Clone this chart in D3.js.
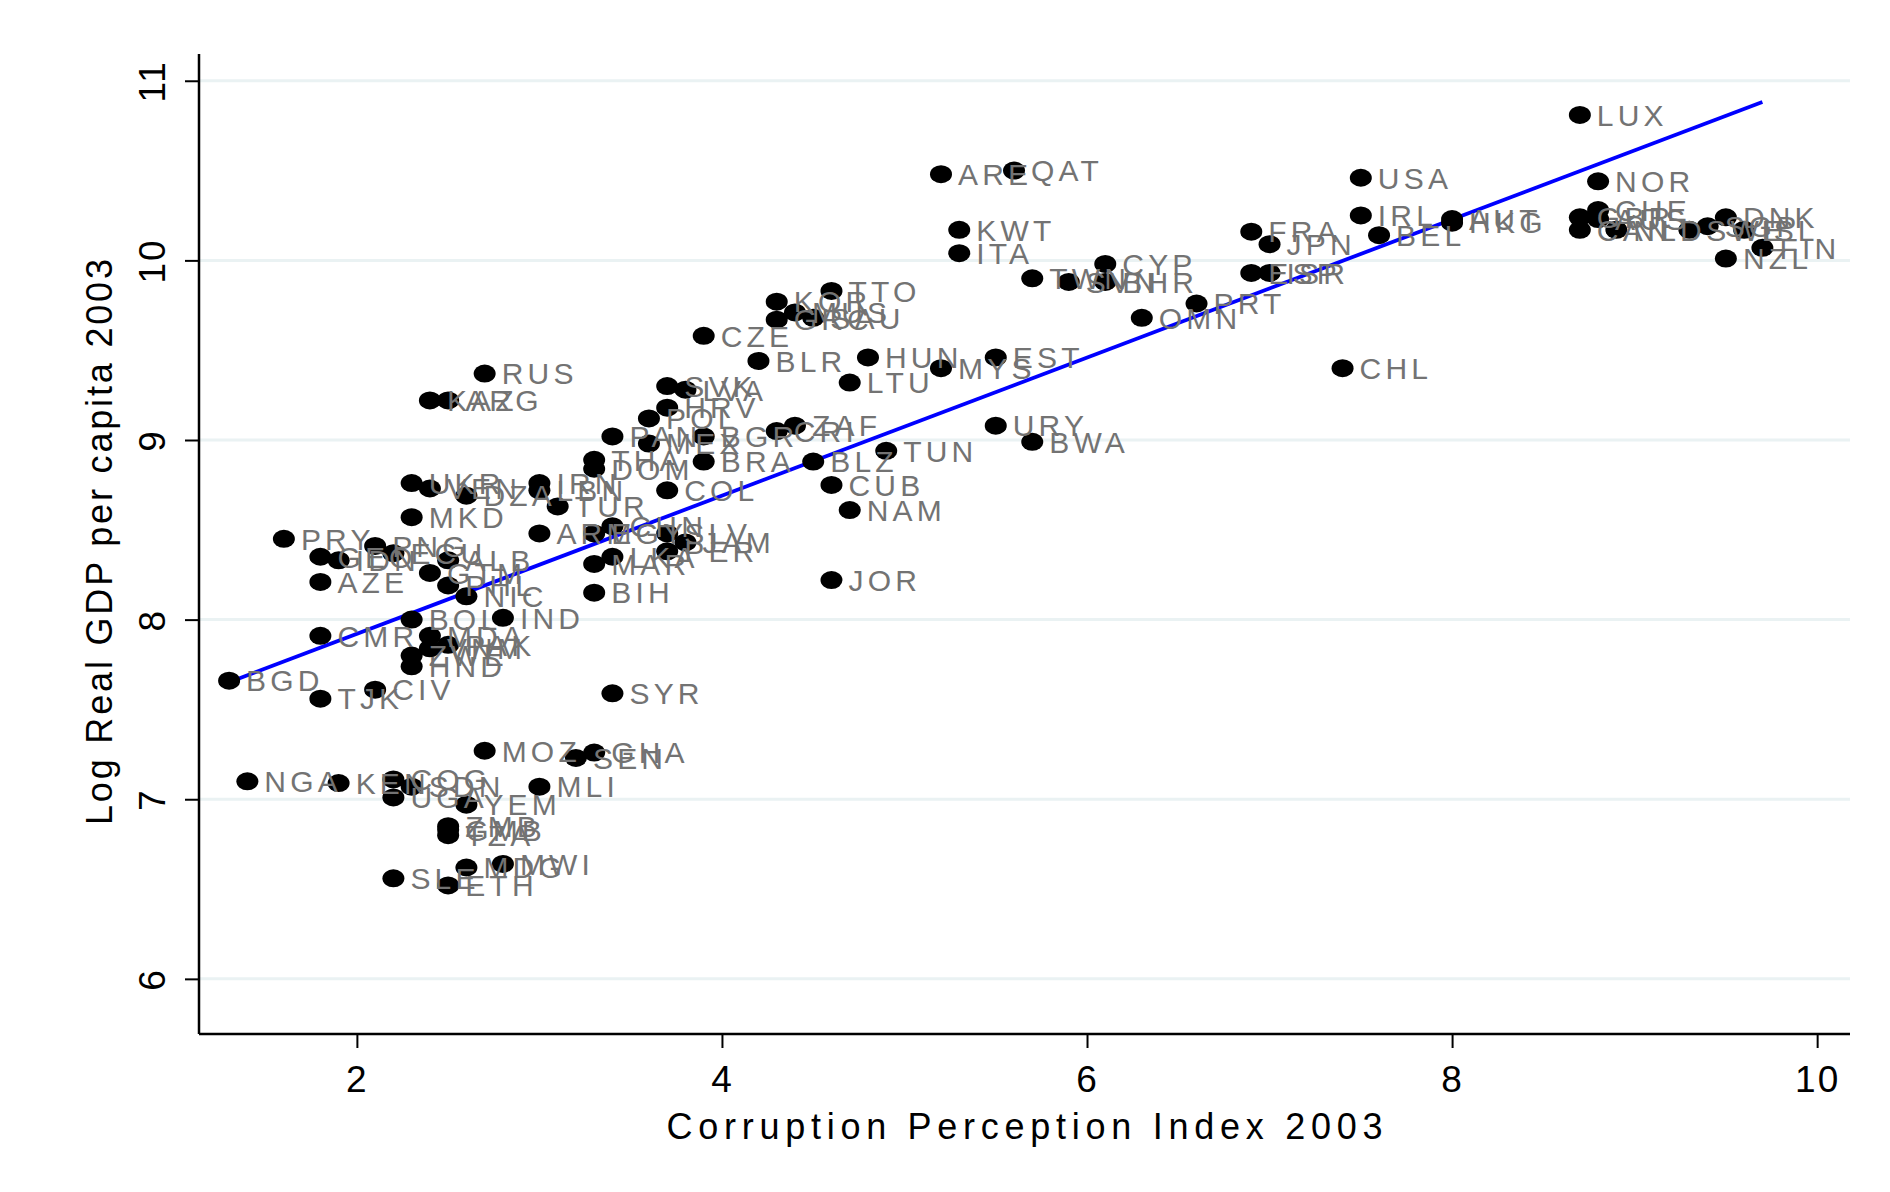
<!DOCTYPE html>
<html>
<head>
<meta charset="utf-8">
<script src="https://cdn.jsdelivr.net/npm/d3@7"></script>
<style>
  html, body { margin: 0; padding: 0; background: #fff; }
  svg text { font-family: "Liberation Sans", Arial, sans-serif; }
</style>
</head>
<body>
<div id="chart"></div>
<script>
// country codes, CPI 2003 and log real GDP per capita 2003
var codes = ["LUX","ARE","QAT","USA","NOR","KWT","ITA","IRL","BEL","AUT","HKG","FRA","JPN","ESP","ISR",
  "CYP","BHR","SVN","TWN","OMN","PRT","CHL","MYS","EST","HUN","LTU","URY","BWA","TUN","CZE","BLR",
  "TTO","KOR","MUS","SAU","GRC","CRI","ZAF","BLZ","CUB","NAM","JOR","SYR","SVK","LVA","HRV","POL",
  "MEX","BGR","BRA","COL","PAN","THA","DOM","IRN","LBN","TUR","ARM","EGY","CHN","SLV","JAM","PER",
  "LKA","MAR","BIH","UKR","VEN","DZA","MKD","RUS","KAZ","ARG","PRY","GEO","IDN","PNG","ECU","ALB",
  "GTM","PHL","NIC","AZE","BOL","IND","CMR","MDA","PAK","VNM","ZWE","HND","BGD","TJK","CIV","NGA",
  "KEN","COG","SDN","UGA","YEM","MLI","MOZ","SEN","GHA","ZMB","GMB","TZA","MDG","MWI","SLE","ETH",
  "GBR","CAN","CHE","AUS","NLD","SWE","SGP","DNK","ISL","FIN","NZL"];

var cpi = [8.7,5.2,5.6,7.5,8.8,5.3,5.3,7.5,7.6,8.0,8.0,6.9,7.0,6.9,7.0,
  6.1,6.1,5.9,5.7,6.3,6.6,7.4,5.2,5.5,4.8,4.7,5.5,5.7,4.9,3.9,4.2,
  4.6,4.3,4.4,4.5,4.3,4.3,4.4,4.5,4.6,4.7,4.6,3.4,3.7,3.8,3.7,3.6,
  3.6,3.9,3.9,3.7,3.4,3.3,3.3,3.0,3.0,3.1,3.0,3.3,3.4,3.7,3.8,3.7,
  3.4,3.3,3.3,2.3,2.4,2.6,2.3,2.7,2.4,2.5,1.6,1.8,1.9,2.1,2.2,2.5,
  2.4,2.5,2.6,1.8,2.3,2.8,1.8,2.4,2.5,2.4,2.3,2.3,1.3,1.8,2.1,1.4,
  1.9,2.2,2.3,2.2,2.6,3.0,2.7,3.2,3.3,2.5,2.5,2.5,2.6,2.8,2.2,2.5,
  8.7,8.7,8.8,8.8,8.9,9.3,9.4,9.5,9.6,9.7,9.5];

var lgdp = [10.81,10.48,10.50,10.46,10.44,10.17,10.04,10.25,10.14,10.23,10.21,10.16,10.09,9.93,9.93,
  9.98,9.88,9.88,9.90,9.68,9.76,9.40,9.40,9.46,9.46,9.32,9.08,8.99,8.94,9.58,9.44,
  9.83,9.77,9.71,9.68,9.67,9.05,9.08,8.88,8.75,8.61,8.22,7.59,9.30,9.28,9.18,9.12,
  8.98,9.02,8.88,8.72,9.02,8.89,8.84,8.76,8.72,8.63,8.48,8.48,8.52,8.48,8.43,8.38,
  8.35,8.31,8.15,8.76,8.73,8.69,8.57,9.37,9.22,9.22,8.45,8.35,8.33,8.41,8.37,8.33,
  8.26,8.19,8.13,8.21,8.00,8.01,7.91,7.91,7.86,7.84,7.80,7.74,7.66,7.56,7.61,7.10,
  7.09,7.11,7.07,7.01,6.97,7.07,7.27,7.23,7.26,6.85,6.83,6.80,6.62,6.64,6.56,6.52,
  10.24,10.17,10.28,10.23,10.17,10.17,10.19,10.24,10.17,10.07,10.01];

var xTicks = [2, 4, 6, 8, 10];
var yTicks = [6, 7, 8, 9, 10, 11];
var xTitle = "Corruption Perception Index 2003";
var yTitle = "Log Real GDP per capita 2003";

function init(){
    var w = 1890;
    var h = 1192;
    var left = 199, right = 1850, top = 54, bottom = 1034;

    var svg = d3.select("#chart")
                .append("svg")
                .attr("width", w)
                .attr("height", h);

    svg.append("rect")
        .attr("x", 0).attr("y", 0)
        .attr("width", w).attr("height", h)
        .attr("fill", "#fff");

    var x = d3.scaleLinear().domain([1.135, 10.18]).range([left, right]);
    var y = d3.scaleLinear().domain([5.693, 11.149]).range([bottom, top]);

    var data = codes.map(function(c, i){
        return {code: c, x: cpi[i], y: lgdp[i]};
    });

    // grid lines
    svg.selectAll("line.grid")
        .data(yTicks)
        .enter()
        .append("line")
        .attr("class", "grid")
        .attr("x1", left).attr("x2", right)
        .attr("y1", function(d){ return y(d); })
        .attr("y2", function(d){ return y(d); })
        .attr("stroke", "#eaf2f3")
        .attr("stroke-width", 3);

    // fitted line (least squares on the points)
    var mx = d3.mean(cpi), my = d3.mean(lgdp);
    var sxy = d3.sum(cpi, function(v, i){ return (v - mx) * (lgdp[i] - my); });
    var sxx = d3.sum(cpi, function(v){ return (v - mx) * (v - mx); });
    var slope = sxy / sxx;
    var intercept = my - slope * mx;
    var ext = d3.extent(cpi);

    svg.append("line")
        .attr("x1", x(ext[0])).attr("y1", y(intercept + slope * ext[0]))
        .attr("x2", x(ext[1])).attr("y2", y(intercept + slope * ext[1]))
        .attr("stroke", "#0000ff")
        .attr("stroke-width", 3.8);

    // points
    svg.selectAll("ellipse")
        .data(data)
        .enter()
        .append("ellipse")
        .attr("cx", function(d){ return x(d.x); })
        .attr("cy", function(d){ return y(d.y); })
        .attr("rx", 11)
        .attr("ry", 9)
        .attr("fill", "#000");

    // labels
    svg.selectAll("text.lab")
        .data(data)
        .enter()
        .append("text")
        .attr("class", "lab")
        .attr("x", function(d){ return x(d.x) + 17; })
        .attr("y", function(d){ return y(d.y); })
        .attr("dy", "0.36em")
        .attr("font-size", 30)
        .attr("letter-spacing", 4.2)
        .attr("fill", "#737373")
        .text(function(d){ return d.code; });

    // axes
    var xAxis = d3.axisBottom(x).tickValues(xTicks).tickSize(14).tickPadding(18).tickFormat(d3.format("d"));
    var gx = svg.append("g").attr("transform", "translate(0," + bottom + ")").call(xAxis);
    gx.select(".domain").attr("d", "M" + left + ",0H" + right).attr("stroke", "#000").attr("stroke-width", 2.5);
    gx.selectAll(".tick line").attr("stroke", "#000").attr("stroke-width", 2);
    gx.selectAll(".tick text")
        .attr("font-size", 37)
        .attr("letter-spacing", 2)
        .attr("fill", "#000")
        .attr("font-family", "Liberation Sans, Arial, sans-serif");

    var yAxis = d3.axisLeft(y).tickValues(yTicks).tickSize(14).tickPadding(0).tickFormat(d3.format("d"));
    var gy = svg.append("g").attr("transform", "translate(" + left + ",0)").call(yAxis);
    gy.select(".domain").attr("d", "M0," + top + "V" + bottom).attr("stroke", "#000").attr("stroke-width", 2.5);
    gy.selectAll(".tick line").attr("stroke", "#000").attr("stroke-width", 2);
    gy.selectAll(".tick text")
        .attr("x", null).attr("dy", null)
        .attr("transform", "translate(-34,0) rotate(-90)")
        .attr("text-anchor", "middle")
        .attr("font-size", 37)
        .attr("letter-spacing", 2)
        .attr("fill", "#000")
        .attr("font-family", "Liberation Sans, Arial, sans-serif");

    // titles
    svg.append("text")
        .attr("x", 1024.5 - 358)
        .attr("y", 1139)
        .attr("font-size", 36)
        .attr("textLength", 716)
        .attr("lengthAdjust", "spacing")
        .attr("fill", "#000")
        .text(xTitle);

    svg.append("text")
        .attr("transform", "translate(112," + (542 + 283) + ") rotate(-90)")
        .attr("font-size", 36)
        .attr("textLength", 566)
        .attr("lengthAdjust", "spacing")
        .attr("fill", "#000")
        .text(yTitle);
}
window.onload = init;
</script>
</body>
</html>
